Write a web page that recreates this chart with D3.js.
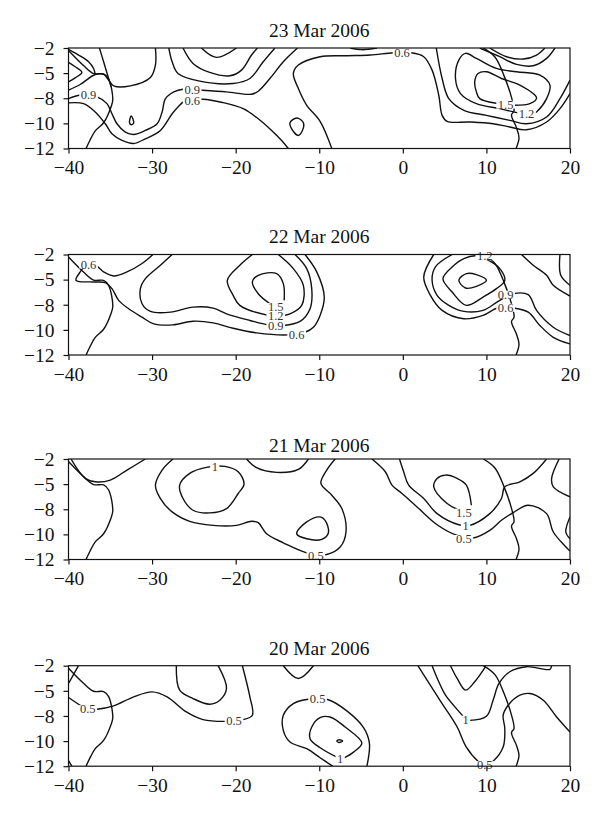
<!DOCTYPE html>
<html>
<head>
<meta charset="utf-8">
<title>Contour panels</title>
<script src="https://cdn.jsdelivr.net/npm/d3@7"></script>
<style>
  html, body { margin: 0; padding: 0; background: #fff; }
  svg { display: block; }
  text { font-family: "Liberation Serif", serif; fill: #111; }
</style>
</head>
<body>
<div id="chart"></div>
<script>
// Tick labels. The y axis of the original is evenly spaced although its labels are not.
const xTicks = [-40, -30, -20, -10, 0, 10, 20];
const yTicks = [-2, -5, -8, -10, -12];

// Coast outline, the same on every panel [lon, lat]
const coastWest = [[-40,-2.3],[-38.2,-4.1],[-37,-5.05],[-35.8,-5.1],[-35.2,-5.7],[-34.7,-8.1],[-34.9,-8.67],[-35.8,-9.95],[-36.8,-10.6],[-37.4,-11.3],[-37.9,-12]];
const coastEast = [[9.64,-2],[11.04,-3.1],[12.1,-5.3],[13,-7.9],[13.3,-9],[13,-9.33],[13.6,-10.35],[13.9,-11.15],[13.55,-12]];

// 23 Mar 2006
const open23 = [
  [[-40,-7.04],[-38.6,-6.36],[-36.8,-5.16],[-35.8,-5.16],[-35.2,-5.84],[-34.6,-6.52],[-32.6,-6.52],[-30.2,-5.52],[-29.6,-4.04],[-29.6,-2]],
  [[-40,-3.72],[-39.2,-4.24],[-38.4,-4.92],[-39.2,-5.56],[-40,-6.04]],
  [[-40,-2.16],[-38.8,-2.84],[-37.6,-3.64],[-37,-4.44],[-36.8,-5.16]],
  [[-36.3,-2],[-35.8,-3.64],[-35.2,-5.64],[-34.9,-6.64]],
  [[-40,-8.03],[-38.6,-7.64],[-36.6,-7.84],[-35.4,-8.43],[-34.8,-9.23],[-34.2,-10.03],[-33.2,-10.69],[-32.2,-10.88],[-30.8,-10.56],[-29.4,-10.03],[-28.8,-9.09],[-28.4,-8.03],[-27.4,-7.24],[-26.3,-6.92],[-24.1,-7.04],[-21.1,-7.24],[-18.1,-7.52],[-17.3,-7.16],[-15.9,-5.64],[-14.3,-3.64],[-12.6,-2]],
  [[-40,-8.37],[-38.2,-8.43],[-36.8,-9.09],[-35.6,-10.03],[-34.8,-10.83],[-33.6,-11.36],[-32.2,-11.6],[-30.8,-11.23],[-29,-10.56],[-27.6,-9.23],[-26.9,-8.69],[-26.1,-8.24],[-23.9,-8.08],[-21.5,-8.35],[-19.1,-8.83],[-17.3,-9.63],[-15.7,-10.56],[-14.5,-11.36],[-13.7,-12]],
  [[-28,-2],[-27.6,-3.64],[-26.9,-5.04],[-24.3,-5.96],[-20.3,-6.24],[-18.3,-5.64],[-16.7,-3.64],[-15.3,-2]],
  [[-26.3,-2],[-25.1,-3.84],[-23.1,-4.92],[-20.7,-5.32],[-19.3,-4.64],[-18.1,-2.84],[-17.4,-2]],
  [[-24.1,-2],[-22.3,-3.12],[-19.9,-2]],
  [[-8.5,-12],[-9.9,-9.84],[-11.5,-8.56],[-12.5,-6.84],[-13.1,-5.04],[-12.5,-4.04],[-9.9,-3.04],[-6.7,-2.92],[-3.9,-2.84],[-1.1,-2.56],[0.9,-2.56],[2.5,-3.04],[3.5,-4.64],[4.3,-7.64],[4.7,-9.36],[5.3,-9.84],[8,-9.89],[10.8,-10.03],[12.8,-10.29],[14.8,-10.51],[17.2,-9.89],[18.8,-8.83],[20,-7.44]],
  [[-6.3,-2],[-4.9,-2.2],[-3.1,-2]],
  [[4,-2],[4.7,-5.64],[5.5,-8.03],[7.3,-8.96],[10,-9.36],[12.8,-9.76],[14.8,-10.03],[17.2,-9.49],[18.8,-8.03],[20,-5.84]],
  [[10.4,-2],[12.4,-3.04],[14.4,-3.32],[16,-2.84],[17,-2]],
  [[9.2,-2],[11.6,-3.04],[13.6,-3.96],[15.6,-4.12],[17.2,-3.24],[18.2,-2]]
];
const closed23 = [
  [[-32.5,-9.41],[-32.2,-9.95],[-32.5,-10.11],[-32.7,-9.95]],
  [[-12.7,-9.57],[-11.9,-9.95],[-12.1,-10.69],[-12.5,-10.96],[-13.3,-10.43],[-13.5,-9.95]],
  [[11.4,-8.43],[9.2,-8.03],[8.8,-7.24],[8.6,-6.04],[9,-5.04],[10,-4.84],[11.8,-5.64],[14,-6.44],[16,-7.96],[15.2,-8.43],[13.2,-8.56]],
  [[13.9,-9.17],[11.6,-8.83],[8.8,-8.43],[6.9,-7.44],[6.3,-5.64],[6.7,-3.44],[7.5,-2.64],[8.8,-3.24],[11.2,-4.44],[13.6,-4.84],[16.4,-5.24],[17.6,-6.44],[17.2,-8.03],[16,-9.09],[15.6,-9.25]]
];
const labels23 = [["0.9",-37.6,-7.56],["0.9",-25.2,-6.96],["0.6",-25.2,-8.19],["0.6",-0.1,-2.56],["1.5",12.3,-8.51],["1.2",14.8,-9.25]];

// 22 Mar 2006
const open22 = [
  [[-29.9,-2],[-31.2,-3.08],[-33,-4.08],[-34.6,-4.56],[-35.8,-4.08],[-36.8,-3.28],[-38.2,-3.6],[-38.6,-4.08],[-39.1,-5.08],[-37,-5.28],[-35.6,-5.36],[-34.8,-6.08],[-34,-7.48],[-32.8,-8.32],[-31.2,-8.99],[-29.8,-9.52],[-27.5,-9.6],[-25.1,-9.31],[-22.7,-9.44],[-20.3,-9.87],[-17.5,-10.24],[-13.7,-10.4],[-11.7,-10.19],[-10.7,-9.79],[-9.9,-8.85],[-9.4,-7.08],[-10.3,-4.08],[-11.7,-2]],
  [[-15.9,-7.88],[-17.3,-6.68],[-18,-5.28],[-17.3,-4.48],[-15.1,-4.28],[-14.3,-5.48],[-14.2,-7.48]],
  [[-14.9,-2],[-13.1,-3.68],[-11.9,-5.68],[-12.1,-8.05],[-13.5,-8.72],[-15.2,-8.9],[-16.1,-8.85],[-19.5,-8.05],[-20.3,-6.88],[-21,-5.08],[-19.5,-3.28],[-18,-2]],
  [[-12.9,-2],[-11.5,-3.68],[-10.9,-6.08],[-11.1,-8.32],[-12.3,-9.33],[-14.3,-9.65],[-16.1,-9.6],[-18.3,-9.25],[-21.1,-8.72],[-22.7,-8.27],[-25.1,-8.19],[-27.8,-8.59],[-30.2,-8.53],[-31.2,-7.88],[-31.4,-6.08],[-30.8,-4.88],[-29,-3.28],[-27.6,-2]],
  [[5.9,-2],[3.9,-3.48],[3.5,-5.08],[4.1,-6.88],[5.5,-8.05],[7.3,-8.53],[9.6,-8.45],[11.4,-7.6],[13.2,-6.68],[15,-6.8],[16,-8.45],[18,-9.79],[20,-10.45]],
  [[3.7,-2],[2.5,-4.68],[3.3,-6.88],[4.7,-8.45],[7.3,-9.12],[9.6,-8.85],[11.4,-8.24],[13.3,-8.27],[15,-8.59],[16.4,-9.65],[18,-10.59],[20,-11.12]],
  [[14.2,-2],[15.6,-3.28],[17.2,-4.48],[18,-5.68],[20,-6.96]],
  [[18.8,-2],[18.9,-4.48],[20,-5.68]]
];
const closed22 = [
  [[6.7,-5.08],[7.6,-4.28],[8.8,-4.4],[10,-5.08],[8.8,-5.8],[7.5,-6]],
  [[8.8,-2.16],[7.3,-2.48],[5.9,-3.48],[4.8,-4.88],[5.9,-6.48],[7.6,-8.05],[9.6,-7.08],[11.2,-6.08],[12.2,-5.08],[11.6,-3.68],[10.2,-2.68]]
];
const labels22 = [["0.6",-37.6,-3.2],["1.5",-15.2,-8.19],["1.2",-15.2,-8.85],["0.9",-15.2,-9.65],["0.6",-12.7,-10.37],["1.2",9.8,-2.2],["0.9",12.3,-6.8],["0.6",12.3,-8.24]];

// 21 Mar 2006
const open21 = [
  [[-39.7,-2],[-38,-4.32],[-36.8,-4.72],[-35,-4.52],[-33,-3.32],[-30.8,-2]],
  [[-27.5,-2],[-28.8,-3.32],[-29.6,-5.12],[-29,-6.72],[-27.6,-8.21],[-25.5,-8.96],[-22.7,-9.28],[-19.9,-9.28],[-18.1,-8.96],[-17.3,-9.07],[-16.3,-9.95],[-14.3,-10.67],[-11.1,-11.55],[-9.1,-11.6],[-7.5,-11.01],[-6.8,-9.81],[-7.3,-7.92],[-8.5,-6.32],[-9.8,-4.92],[-9.1,-3.32],[-8.1,-2]],
  [[-18.7,-2],[-17.5,-3.04],[-15.1,-3.6],[-12.5,-3.24],[-11.3,-2]],
  [[-3.7,-2],[-2.1,-3.52],[-1.3,-5.12],[-0.1,-6.12],[1.7,-7.72],[4.1,-9.23],[6.5,-10.08],[8.4,-10.29],[10.4,-9.68],[11.8,-8.88],[13.2,-8.27],[15,-7.52],[17.2,-8.35],[18,-9.81],[20,-11.33]],
  [[-0.4,-2],[0.1,-3.52],[0.7,-5.12],[2.5,-6.72],[4.1,-8.35],[6.7,-9.23],[8,-9.28],[10.4,-8.35],[11.8,-6.72],[12.2,-5.32],[14,-4.72],[15.6,-3.72],[17.2,-2]],
  [[6.5,-8],[5.3,-7.32],[3.7,-5.32],[4.1,-4.32],[5.1,-3.92],[6.5,-4.32],[7.6,-5.12],[8.2,-7.52]],
  [[18.7,-2],[17.8,-4.32],[18,-5.32],[20,-6.52]],
  [[20,-8.61],[19.5,-9.81],[20,-10.35]]
];
const closed21 = [
  [[-23.5,-3],[-25.5,-3.72],[-26.7,-5.12],[-26.3,-6.72],[-25.1,-8.08],[-23.1,-8.29],[-21.1,-7.92],[-19.7,-6.12],[-19,-5],[-19.7,-3.52],[-21.3,-2.88]],
  [[-12.7,-9.95],[-11.5,-9.01],[-9.9,-8.61],[-9.3,-8.88],[-8.9,-9.87],[-9.7,-10.4],[-11.5,-10.35]]
];
const labels21 = [["1",-22.5,-2.88],["0.5",-10.4,-11.68],["1.5",7.3,-8.27],["1",7.5,-9.33],["0.5",7.3,-10.37]];

// 20 Mar 2006
const open20 = [
  [[-40,-4.12],[-38.8,-2]],
  [[-40,-5.8],[-38.6,-6.72],[-37.7,-7.2],[-36.6,-7.2],[-34.6,-6.8],[-32.2,-5.72],[-30,-5.12],[-28.2,-5.72],[-25.9,-7.52],[-23.9,-8.29],[-21.1,-8.43],[-19.1,-8.29],[-18,-7.92],[-18.3,-5.72],[-19.2,-2]],
  [[-27.1,-2],[-26.7,-4.92],[-25.1,-5.92],[-23.1,-6.6],[-21.9,-6.12],[-21.1,-4.72],[-22.1,-2]],
  [[-14.3,-2],[-12.5,-3.52],[-10.7,-2]],
  [[-40,-11.55],[-39.6,-12]],
  [[-4.3,-12],[-4,-10.16],[-4.7,-8.93],[-6.7,-7.4],[-9,-6.04],[-11.3,-6],[-13.1,-6.52],[-14.3,-7.92],[-14.3,-9.15],[-13.5,-10.08],[-11.5,-10.61],[-9.9,-11.33],[-8.4,-12]],
  [[-7.9,-11.28],[-9.9,-10.53],[-11.1,-9.81],[-10.9,-8.88],[-9.9,-8.13],[-8.7,-8.08],[-6.9,-8.88],[-4.9,-10.16],[-5.9,-10.88],[-7,-11.33]],
  [[1.8,-2],[2.9,-3.72],[4.7,-6.52],[6.5,-8.88],[7.6,-10.48],[9,-11.6],[9.8,-11.92],[10.8,-11.6],[12,-10.48],[12.2,-9.01],[12,-7.92],[12.6,-6.72],[14,-5.52],[15.2,-5.32],[16.8,-6.12],[18.4,-8.08],[20,-9.28]],
  [[3.5,-2],[4.3,-3.92],[5.1,-5.52],[7.1,-7.92],[7.5,-8.29],[8,-8.35],[10,-8.03],[10.8,-6.12],[11.5,-4.12],[12.8,-2.72],[14.8,-2.12],[17.6,-2.44],[17.8,-2]],
  [[5.7,-2],[6.5,-3.52],[7.5,-4.92],[8.6,-3.92],[9.9,-2.12]]
];
const closed20 = [
  [[-7.9,-10],[-7.6,-9.89],[-7.2,-10],[-7.6,-10.11]]
];
const labels20 = [["0.5",-37.7,-7.2],["0.5",-20.2,-8.4],["0.5",-10.2,-6],["1",-7.5,-11.41],["1",7.5,-8.29],["0.5",9.8,-11.92]];

const panelTitles = ["23 Mar 2006", "22 Mar 2006", "21 Mar 2006", "20 Mar 2006"];
const openLines = [open23, open22, open21, open20];
const closedLines = [closed23, closed22, closed21, closed20];
const panelLabels = [labels23, labels22, labels21, labels20];
const panelTops = [48, 254.5, 459, 665.7];
const titleGaps = [11, 11.5, 7.5, 10.4];

const width = 600, height = 831;
const margin = {left: 68.5, right: 30};
const innerWidth = width - margin.left - margin.right;
const innerHeight = 100.5;
const labelFontSize = 12.5;

const svg = d3.select("#chart").append("svg")
  .attr("width", width)
  .attr("height", height);

const xScale = d3.scaleLinear().domain([-40, 20]).range([0, innerWidth]);
// Piecewise scale, so the uneven labels land on evenly spaced ticks
const yScale = d3.scaleLinear()
  .domain(yTicks)
  .range(yTicks.map((d, i) => i * innerHeight / (yTicks.length - 1)));

const openPath = d3.line()
  .x(d => xScale(d[0]))
  .y(d => yScale(d[1]))
  .curve(d3.curveCatmullRom.alpha(0.5));
const closedPath = d3.line()
  .x(d => xScale(d[0]))
  .y(d => yScale(d[1]))
  .curve(d3.curveCatmullRomClosed.alpha(0.5));

svg.append("defs").append("clipPath")
  .attr("id", "plot-clip")
  .append("rect")
  .attr("width", innerWidth)
  .attr("height", innerHeight);

panelTitles.forEach((title, i) => {
  const g = svg.append("g")
    .attr("transform", `translate(${margin.left},${panelTops[i]})`);

  const plot = g.append("g").attr("clip-path", "url(#plot-clip)");
  const lines = [coastWest, coastEast].concat(openLines[i]);

  plot.selectAll(".contour")
    .data(lines)
    .enter().append("path")
    .attr("class", "contour")
    .attr("d", openPath)
    .attr("fill", "none")
    .attr("stroke", "#111")
    .attr("stroke-width", 1.4);

  plot.selectAll(".contour-closed")
    .data(closedLines[i])
    .enter().append("path")
    .attr("class", "contour-closed")
    .attr("d", closedPath)
    .attr("fill", "none")
    .attr("stroke", "#111")
    .attr("stroke-width", 1.4);

  // Contour labels, a white box behind each one makes the gap in the line
  const labelWidth = d => d[0].length === 1 ? labelFontSize * 0.5 : labelFontSize * 1.25;

  plot.selectAll(".label-gap")
    .data(panelLabels[i])
    .enter().append("rect")
    .attr("class", "label-gap")
    .attr("x", d => xScale(d[1]) - labelWidth(d) / 2 - 1.5)
    .attr("y", d => yScale(d[2]) - 4)
    .attr("width", d => labelWidth(d) + 3)
    .attr("height", 8)
    .attr("fill", "#fff");

  g.selectAll(".contour-label")
    .data(panelLabels[i])
    .enter().append("text")
    .attr("class", "contour-label")
    .attr("x", d => xScale(d[1]))
    .attr("y", d => yScale(d[2]))
    .attr("dy", "0.34em")
    .attr("text-anchor", "middle")
    .attr("font-size", labelFontSize + "px")
    .style("fill", "#333")
    .text(d => d[0]);

  // Frame
  g.append("rect")
    .attr("width", innerWidth)
    .attr("height", innerHeight)
    .attr("fill", "none")
    .attr("stroke", "#111")
    .attr("stroke-width", 1.2);

  const xAxis = g.append("g")
    .attr("transform", `translate(0,${innerHeight})`)
    .call(d3.axisBottom(xScale).tickValues(xTicks).tickSize(5).tickPadding(7));
  const yAxis = g.append("g")
    .call(d3.axisLeft(yScale).tickValues(yTicks).tickSize(5).tickPadding(9));

  [xAxis, yAxis].forEach(axis => {
    axis.select(".domain").remove();
    axis.selectAll("line").attr("stroke", "#111").attr("stroke-width", 1.2);
    axis.selectAll("text")
      .attr("font-family", "Liberation Serif")
      .attr("font-size", "19.5px")
      .attr("fill", "#111");
  });

  g.append("text")
    .attr("x", innerWidth / 2)
    .attr("y", -titleGaps[i])
    .attr("text-anchor", "middle")
    .attr("font-size", "19.5px")
    .text(title);
});
</script>
</body>
</html>
